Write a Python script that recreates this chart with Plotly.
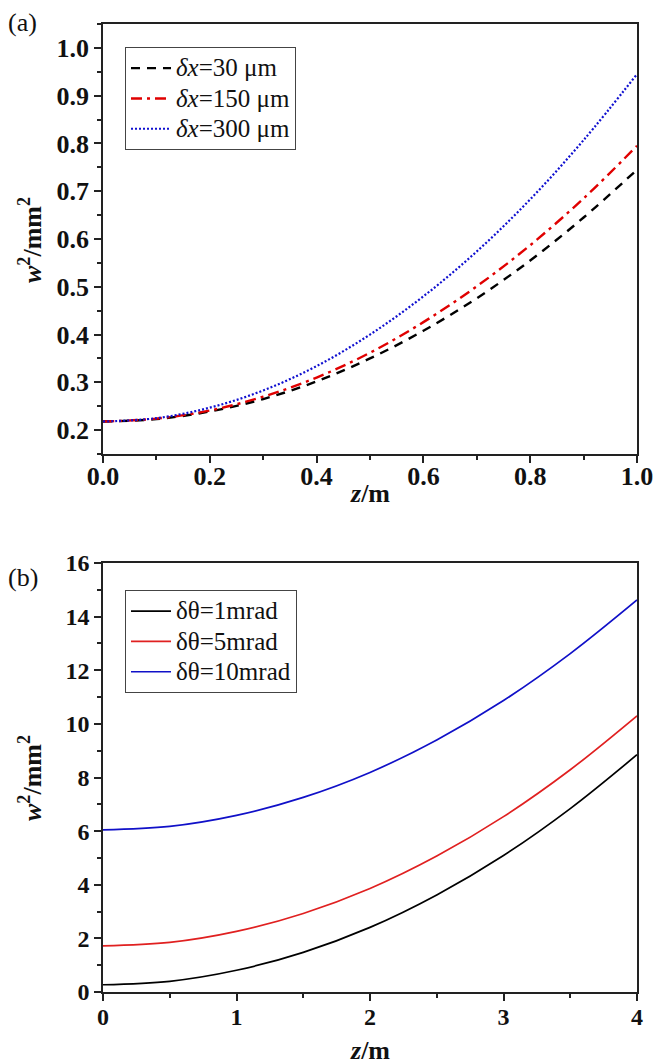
import plotly.graph_objects as go
from plotly.subplots import make_subplots

# Panel (a) data
z_a = [0.0, 0.1, 0.2, 0.3, 0.4, 0.5, 0.6, 0.7, 0.8, 0.9, 1.0]
w2_dx30 = [0.218, 0.223, 0.239, 0.265, 0.302, 0.350, 0.408, 0.476, 0.555, 0.645, 0.745]
w2_dx150 = [0.218, 0.224, 0.241, 0.270, 0.310, 0.362, 0.426, 0.501, 0.587, 0.685, 0.795]
w2_dx300 = [0.218, 0.225, 0.247, 0.283, 0.334, 0.400, 0.480, 0.574, 0.683, 0.807, 0.945]
names_a = ["<i>δx</i>=30 μm", "<i>δx</i>=150 μm", "<i>δx</i>=300 μm"]

# Panel (b) data
z_b = [0.0, 0.5, 1.0, 1.5, 2.0, 2.5, 3.0, 3.5, 4.0]
w2_dt1 = [0.27, 0.40, 0.81, 1.48, 2.41, 3.62, 5.09, 6.84, 8.85]
w2_dt5 = [1.72, 1.85, 2.26, 2.93, 3.86, 5.07, 6.54, 8.29, 10.30]
w2_dt10 = [6.05, 6.18, 6.59, 7.26, 8.19, 9.40, 10.87, 12.62, 14.62]
names_b = ["δθ=1mrad", "δθ=5mrad", "δθ=10mrad"]

xticks_a = [0.0, 0.2, 0.4, 0.6, 0.8, 1.0]
yticks_a = [0.2, 0.3, 0.4, 0.5, 0.6, 0.7, 0.8, 0.9, 1.0]
xticks_b = [0, 1, 2, 3, 4]
yticks_b = [0, 2, 4, 6, 8, 10, 12, 14, 16]

FONT = "Liberation Serif, Times New Roman, Times, serif"
BLACK = "#000000"
RED = "#e00000"
BLUE = "#1010d0"


def big(name):
    return '<span style="font-size:25px">' + name + "</span>"


fig = make_subplots(rows=2, cols=1, vertical_spacing=0.1)

fig.add_trace(go.Scatter(x=z_a, y=w2_dx30, mode="lines", name=big(names_a[0]),
                         line=dict(color=BLACK, width=2.4, dash="9px,7px", shape="spline"),
                         legend="legend"), row=1, col=1)
fig.add_trace(go.Scatter(x=z_a, y=w2_dx150, mode="lines", name=big(names_a[1]),
                         line=dict(color=RED, width=2.4, dash="11px,5px,3px,5px", shape="spline"),
                         legend="legend"), row=1, col=1)
fig.add_trace(go.Scatter(x=z_a, y=w2_dx300, mode="lines", name=big(names_a[2]),
                         line=dict(color=BLUE, width=2.2, dash="2px,2px", shape="spline"),
                         legend="legend"), row=1, col=1)

fig.add_trace(go.Scatter(x=z_b, y=w2_dt1, mode="lines", name=big(names_b[0]),
                         line=dict(color=BLACK, width=1.7, shape="spline"),
                         legend="legend2"), row=2, col=1)
fig.add_trace(go.Scatter(x=z_b, y=w2_dt5, mode="lines", name=big(names_b[1]),
                         line=dict(color="#e02020", width=1.7, shape="spline"),
                         legend="legend2"), row=2, col=1)
fig.add_trace(go.Scatter(x=z_b, y=w2_dt10, mode="lines", name=big(names_b[2]),
                         line=dict(color="#1010c8", width=1.7, shape="spline"),
                         legend="legend2"), row=2, col=1)

W, H = 667, 1064
ml, mr, mt, mb = 103, 30, 24, 72
pw = W - ml - mr
ph = H - mt - mb

def yfrac(px):
    return (H - mb - px) / ph

def xfrac(px):
    return (px - ml) / pw

top_a, bot_a = 24, 454
top_b, bot_b = 563, 992

tick_col = "#222"
axis_common = dict(
    showgrid=False, zeroline=False, showline=True, linecolor=tick_col, linewidth=1.5,
    mirror=True, ticks="outside", ticklen=7, tickwidth=1.5, tickcolor=tick_col,
    tickfont=dict(family=FONT, size=26, color="#111", weight="bold"),
)
fig.update_xaxes(**axis_common)
fig.update_yaxes(**axis_common)
tf_b = dict(family=FONT, size=24, color="#111", weight="bold")

def minor(d):
    return dict(dtick=d, tick0=0, ticks="outside", ticklen=4, tickwidth=1.5, tickcolor=tick_col)

fig.update_layout(
    xaxis=dict(range=[0, 1], tickvals=xticks_a, ticktext=[f"{v:.1f}" for v in xticks_a],
               minor=minor(0.1), domain=[0, 1], ticklabelstandoff=-9),
    yaxis=dict(range=[0.15, 1.05], tickvals=yticks_a, ticktext=[f"{v:.1f}" for v in yticks_a],
               minor=minor(0.05), domain=[yfrac(bot_a), yfrac(top_a)]),
    xaxis2=dict(range=[0, 4], tickvals=xticks_b, ticktext=[str(v) for v in xticks_b],
                minor=minor(0.5), domain=[0, 1], tickfont=tf_b, ticklabelstandoff=-5),
    yaxis2=dict(range=[0, 16], tickvals=yticks_b, ticktext=[str(v) for v in yticks_b],
                minor=minor(1), domain=[yfrac(bot_b), yfrac(top_b)], tickfont=tf_b),
    width=W, height=H,
    margin=dict(l=ml, r=mr, t=mt, b=mb),
    paper_bgcolor="white", plot_bgcolor="white",
    font=dict(family=FONT, color="#111"),
    legend=dict(x=xfrac(125), y=yfrac(47), xanchor="left", yanchor="top",
                bgcolor="white", bordercolor="#444", borderwidth=1,
                font=dict(family=FONT, size=21, color="#111"), tracegroupgap=0,
                itemwidth=40),
    legend2=dict(x=xfrac(125), y=yfrac(590), xanchor="left", yanchor="top",
                 bgcolor="white", bordercolor="#444", borderwidth=1,
                 font=dict(family=FONT, size=21, color="#111"), tracegroupgap=0,
                 itemwidth=40),
    showlegend=True,
)

ann = []
ytitle = "<b><i>w</i><sup>2</sup>/mm<sup>2</sup></b>"
tfont = dict(family=FONT, size=26, color="#111")
ann.append(dict(text=ytitle, x=xfrac(30), y=yfrac(240), xref="paper", yref="paper",
                textangle=-90, showarrow=False, font=tfont, xanchor="center", yanchor="middle"))
ann.append(dict(text=ytitle, x=xfrac(30), y=yfrac(778), xref="paper", yref="paper",
                textangle=-90, showarrow=False, font=tfont, xanchor="center", yanchor="middle"))
ann.append(dict(text="<b><i>z</i>/m</b>", x=0.5, y=yfrac(493), xref="paper", yref="paper",
                showarrow=False, font=tfont, xanchor="center", yanchor="middle"))
ann.append(dict(text="<b><i>z</i>/m</b>", x=0.5, y=yfrac(1050), xref="paper", yref="paper",
                showarrow=False, font=tfont, xanchor="center", yanchor="middle"))
ann.append(dict(text="(a)", x=xfrac(6), y=yfrac(22), xref="paper", yref="paper",
                showarrow=False, font=tfont, xanchor="left", yanchor="middle"))
ann.append(dict(text="(b)", x=xfrac(6), y=yfrac(577), xref="paper", yref="paper",
                showarrow=False, font=tfont, xanchor="left", yanchor="middle"))
fig.update_layout(annotations=ann)

fig.write_html("out.html", config={"displayModeBar": False},
               post_script="document.body.style.margin='0px';")
